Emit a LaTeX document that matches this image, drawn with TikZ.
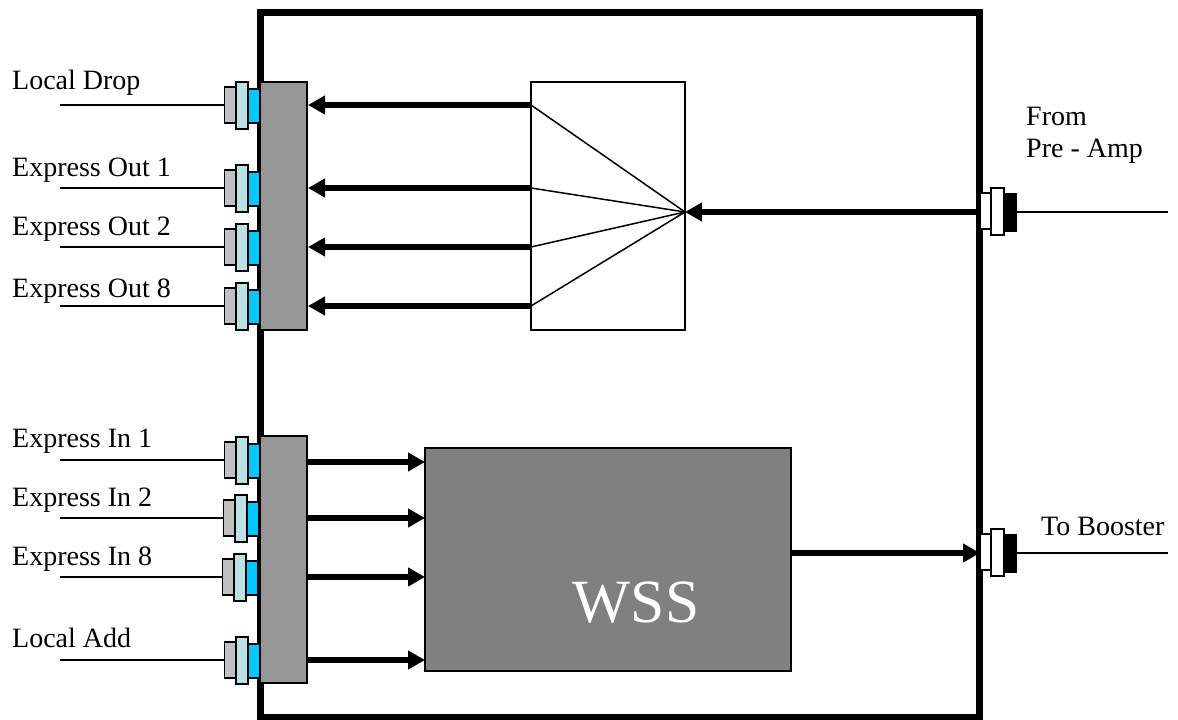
\documentclass[tikz,border=0pt]{standalone}
\usepackage{fontspec}
\setmainfont{Liberation Serif}
\usetikzlibrary{arrows.meta}
\definecolor{portgray}{HTML}{C0C0C0}
\definecolor{portlight}{HTML}{BDE0E4}
\definecolor{portblue}{HTML}{00C8FF}
\definecolor{muxgray}{HTML}{969696}
\definecolor{wssgray}{HTML}{808080}
\tikzset{
  part/.style={draw=black,line width=1.4pt,inner sep=0pt,outer sep=0pt},
  label/.style={font=\fontsize{28pt}{32pt}\selectfont,inner sep=0pt,anchor=base west},
  fibre/.style={line width=1.8pt},
  fan/.style={line width=1.5pt},
  bus/.style={line width=6pt,-{Triangle[length=17pt,width=18pt]}},
}
% #1 name, #2 x offset, #3 y
\newcommand{\leftport}[3]{%
  \path[part,fill=portgray] (224.5+#2,#3-18) rectangle (236+#2,#3+18);
  \path[part,fill=portlight] (236+#2,#3-23) rectangle (248+#2,#3+24);
  \path[part,fill=portblue] (248+#2,#3-16) rectangle (260+#2,#3+18);
  \coordinate (#1) at (224.5+#2,#3);
  \coordinate (#1s) at (60,#3);
  \draw[fibre] (#1s) -- (#1);
}
\newcommand{\rightport}[2]{%
  \path[part,fill=white] (980,#2-19) rectangle (991,#2+17);
  \path[part,fill=white] (991,#2-24) rectangle (1004,#2+23);
  \path[part,fill=black] (1004,#2-18) rectangle (1016,#2+19);
  \coordinate (#1) at (980,#2);
  \coordinate (#1o) at (1016,#2);
  \coordinate (#1e) at (1168,#2);
  \draw[fibre] (#1o) -- (#1e);
}
\begin{document}
\begin{tikzpicture}[x=1pt,y=-1pt]
\useasboundingbox (0,0) rectangle (1178,720);
\fill[white] (0,0) rectangle (1178,720);
% frame
\draw[line width=7pt] (260,12) rectangle (979,717);
% ports
\leftport{a}{0}{105}
\leftport{b}{0}{188}
\leftport{c}{0}{247}
\leftport{d}{0}{306}
\leftport{e}{0}{460}
\leftport{f}{-1}{518}
\leftport{g}{-2}{577}
\leftport{h}{0}{660}
\rightport{p}{212}
\rightport{q}{553}
% boxes
\node[part,fill=muxgray,minimum width=47pt,minimum height=248pt] (mt) at (283.5,206) {};
\node[part,fill=muxgray,minimum width=47pt,minimum height=247pt] (mb) at (283.5,559.5) {};
\node[part,fill=white,minimum width=154pt,minimum height=248pt] (sp) at (608,206) {};
\node[part,fill=wssgray,minimum width=366pt,minimum height=223pt] (wss) at (608,559.5) {};
\node[font=\fontsize{61.5pt}{68pt}\selectfont,text=white,inner sep=0pt,anchor=base] (wsst) at (636,622) {WSS};
% splitter fan
\coordinate (fc) at (685,212);
\coordinate (f1) at (531,105);
\coordinate (f2) at (531,188);
\coordinate (f3) at (531,247);
\coordinate (f4) at (531,306);
\foreach \k in {1,2,3,4} \draw[fan] (f\k) -- (fc);
% top arrows
\coordinate (t1) at (308,105);
\coordinate (t2) at (308,188);
\coordinate (t3) at (308,247);
\coordinate (t4) at (308,306);
\foreach \k in {1,2,3,4} \draw[bus] (f\k) -- (t\k);
\draw[bus] (p) -- (fc);
% bottom arrows
\coordinate (s1) at (307,462);
\coordinate (s2) at (307,518);
\coordinate (s3) at (307,577);
\coordinate (s4) at (307,660);
\coordinate (u1) at (425,462);
\coordinate (u2) at (425,518);
\coordinate (u3) at (425,577);
\coordinate (u4) at (425,660);
\foreach \k in {1,2,3,4} \draw[bus] (s\k) -- (u\k);
\coordinate (w) at (791,553);
\draw[bus] (w) -- (q);
% labels
\node[label] (la) at (12,89) {Local Drop};
\node[label] (lb) at (12,176) {Express Out 1};
\node[label] (lc) at (12,235) {Express Out 2};
\node[label] (ld) at (12,297) {Express Out 8};
\node[label] (le) at (12,447) {Express In 1};
\node[label] (lf) at (12,506) {Express In 2};
\node[label] (lg) at (12,565) {Express In 8};
\node[label] (lh) at (12,647) {Local Add};
\node[label] (lp) at (1026,125) {From};
\node[label] (lp2) at (1026,157) {Pre - Amp};
\node[label] (lq) at (1041,535) {To Booster};
\end{tikzpicture}
\end{document}
